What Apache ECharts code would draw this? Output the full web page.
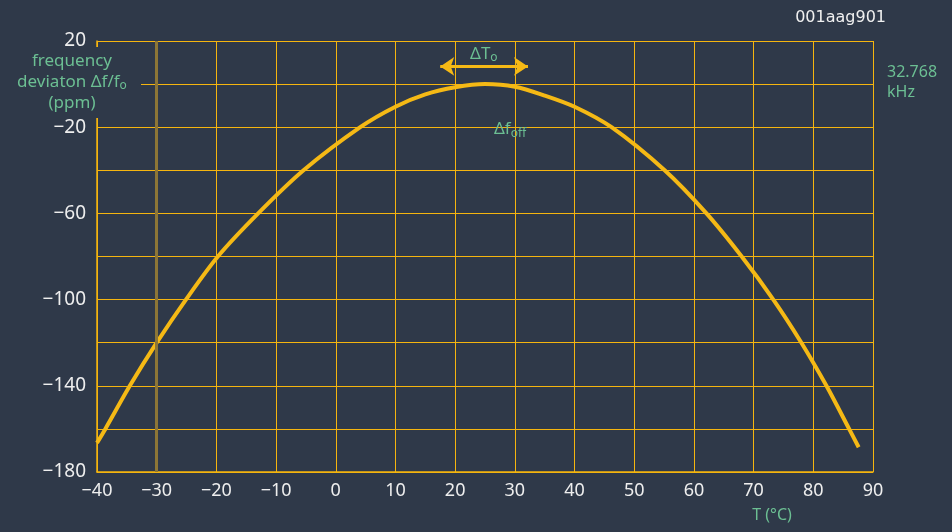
<!DOCTYPE html>
<html>
<head>
<meta charset="utf-8">
<script src="https://cdn.jsdelivr.net/npm/echarts@6/dist/echarts.min.js"></script>
<style>
html, body { margin: 0; padding: 0; background: #2f3949; }
#main { width: 952px; height: 532px; }
</style>
</head>
<body>
<div id="main"></div>
<script>
// temperature (°C) and frequency deviation (ppm)
var temps = [-40, -38.6, -34.5, -30, -25.1, -19.75, -13, -5.4, 4.1, 10, 15, 20, 25, 30, 35, 40, 46.2, 55.1, 62.1, 68, 73.3, 78, 82.2, 86, 87.6];
var deviation = [-166.5, -160, -140, -120, -100, -80, -60, -40, -20, -10.5, -4.8, -1.5, 0, -1.2, -5.3, -10.5, -20, -40, -60, -80, -100, -120, -140, -160, -168.5];
var xTicks = [-40, -30, -20, -10, 0, 10, 20, 30, 40, 50, 60, 70, 80, 90];
var yLabelTicks = [20, -20, -60, -100, -140, -180];

var bg = '#2f3949';
var yellow = '#f5b50f';
var green = '#6cbf93';
var font = '"Noto Sans", sans-serif';

var chartDom = document.getElementById('main');
var myChart = echarts.init(chartDom);
var option;

function minus(v) {
	return String(v).replace('-', '\u2212');
}

var points = temps.map(function (t, i) { return [t, deviation[i]]; });

option = {
	backgroundColor: bg,
	animation: false,
	grid: {
		left: 97,
		right: 79,
		top: 41,
		bottom: 60
	},
	xAxis: {
		type: 'value',
		min: -40,
		max: 90,
		interval: 10,
		axisLine: { show: true, onZero: false, lineStyle: { color: yellow, width: 1.5 } },
		axisTick: { show: false },
		splitLine: { show: true, lineStyle: { color: yellow, width: 1 } },
		axisLabel: {
			color: '#eeeeee',
			fontSize: 18,
			fontFamily: font,
			margin: 10,
			formatter: function (v) { return xTicks.indexOf(v) >= 0 ? minus(v) : ''; }
		}
	},
	yAxis: {
		type: 'value',
		min: -180,
		max: 20,
		interval: 20,
		axisLine: { show: true, onZero: false, lineStyle: { color: yellow, width: 1.5 } },
		axisTick: { show: false },
		splitLine: { show: true, lineStyle: { color: yellow, width: 1 } },
		axisLabel: {
			color: '#eeeeee',
			fontSize: 19,
			fontFamily: font,
			margin: 11,
			formatter: function (v) { return yLabelTicks.indexOf(v) >= 0 ? minus(v) : ''; }
		}
	},
	series: [
		{
			name: 'marks',
			type: 'line',
			data: [],
			z: 1,
			markLine: {
				silent: true,
				symbol: ['none', 'none'],
				label: { show: false },
				lineStyle: { color: '#8d7636', width: 3, type: 'solid' },
				data: [{ xAxis: -30 }]
			}
		},
		{
			name: 'deviation',
			type: 'line',
			data: points,
			smooth: 0.3,
			showSymbol: false,
			z: 3,
			lineStyle: { color: '#f5b915', width: 4 },
			markLine: {
				silent: true,
				symbol: ['arrow', 'arrow'],
				symbolSize: [14, 14],
				label: { show: false },
				lineStyle: { color: '#f5b915', width: 3, type: 'solid' },
				data: [[{ coord: [17.5, 8.2] }, { coord: [32.2, 8.2] }]]
			}
		}
	]
};

option && myChart.setOption(option);

// annotations placed from data coordinates
var dT = myChart.convertToPixel({ gridIndex: 0 }, [24.8, 13.8]);
var dF = myChart.convertToPixel({ gridIndex: 0 }, [29.2, -21]);

myChart.setOption({
	graphic: [
		{
			type: 'rect',
			z: 100,
			shape: { x: 2, y: 47, width: 139, height: 71 },
			style: { fill: bg }
		},
		{
			type: 'text',
			z: 101,
			style: {
				text: 'frequency\ndeviaton Δf/f{sub|o}\n(ppm)',
				x: 72,
				y: 82,
				align: 'center',
				verticalAlign: 'middle',
				fill: green,
				font: '17px ' + font,
				lineHeight: 21,
				rich: {
					sub: { fontSize: 12, fill: green, padding: [7, 0, 0, 0], fontFamily: font }
				}
			}
		},
		{
			type: 'text',
			z: 101,
			style: {
				text: 'ΔT{sub|o}',
				x: dT[0],
				y: dT[1],
				align: 'center',
				verticalAlign: 'middle',
				fill: green,
				font: '17px ' + font,
				rich: {
					sub: { fontSize: 12, fill: green, padding: [7, 0, 0, 0], fontFamily: font }
				}
			}
		},
		{
			type: 'text',
			z: 101,
			style: {
				text: 'Δf{sub|off}',
				x: dF[0],
				y: dF[1],
				align: 'center',
				verticalAlign: 'middle',
				fill: green,
				font: '17px ' + font,
				rich: {
					sub: { fontSize: 12, fill: green, padding: [8, 0, 0, 0], fontFamily: font }
				}
			}
		},
		{
			type: 'text',
			z: 101,
			style: {
				text: '32.768\nkHz',
				x: 887,
				y: 82,
				align: 'left',
				verticalAlign: 'middle',
				fill: green,
				font: '16px ' + font,
				lineHeight: 20
			}
		},
		{
			type: 'text',
			z: 101,
			style: {
				text: 'T (°C)',
				x: 772,
				y: 515,
				align: 'center',
				verticalAlign: 'middle',
				fill: green,
				font: '16px ' + font
			}
		},
		{
			type: 'text',
			z: 101,
			style: {
				text: '001aag901',
				x: 886,
				y: 18,
				align: 'right',
				verticalAlign: 'middle',
				fill: '#f0f0f0',
				font: '16px "DejaVu Sans", sans-serif'
			}
		}
	]
});
</script>
</body>
</html>
